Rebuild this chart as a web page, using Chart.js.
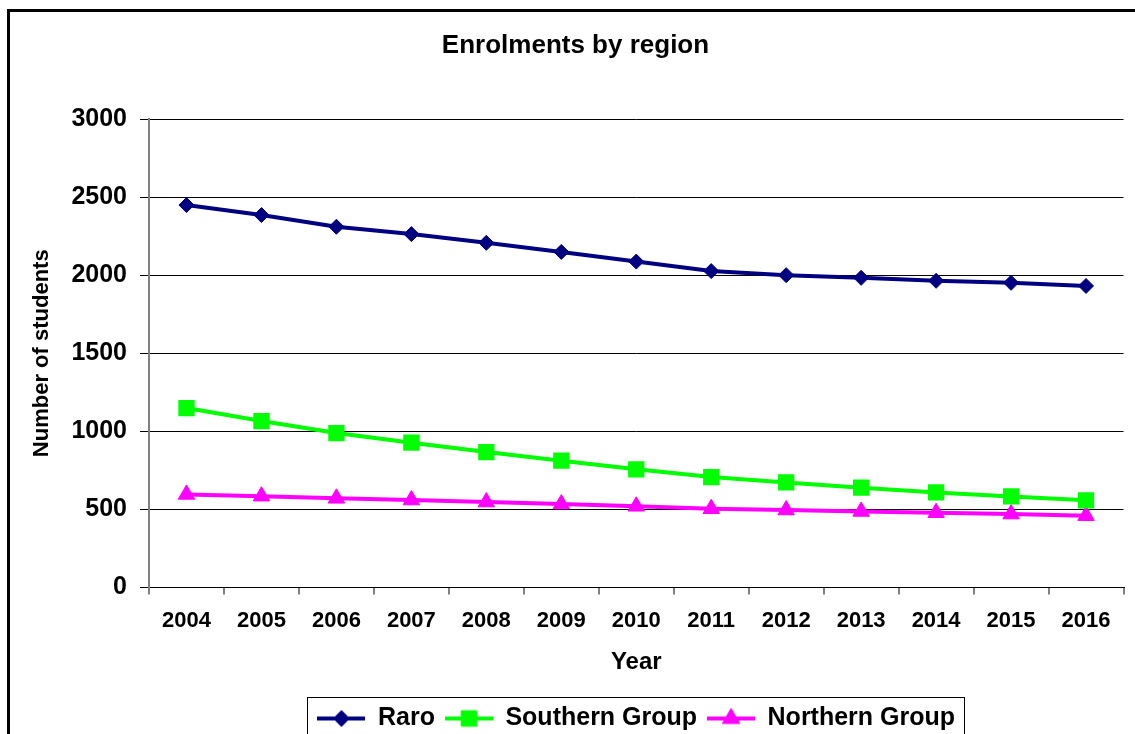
<html>
<head>
<meta charset="utf-8">
<title>Enrolments by region</title>
<script src="https://cdn.jsdelivr.net/npm/chart.js@4.4.1/dist/chart.umd.min.js"></script>
<style>
    html, body {
        margin: 0;
        padding: 0;
        background: #ffffff;
        overflow: hidden;
    }
    #wrap {
        width: 1135px;
        height: 750px;
    }
</style>
</head>
<body>
<div id="wrap">
    <canvas id="myChart" width="1135" height="750"></canvas>
</div>

<script>
    // data
    const years = ['2004', '2005', '2006', '2007', '2008', '2009', '2010',
                   '2011', '2012', '2013', '2014', '2015', '2016'];
    const raro = [2449, 2385, 2310, 2263, 2207, 2149, 2087, 2026, 2000, 1983, 1964, 1951, 1931];
    const southern = [1149, 1066, 989, 927, 867, 812, 757, 707, 673, 639, 609, 583, 558];
    const northern = [596, 585, 571, 560, 547, 534, 520, 504, 496, 487, 479, 470, 460];
    const yTicks = [0, 500, 1000, 1500, 2000, 2500, 3000];

    const FONT = '"Liberation Sans", Arial, sans-serif';

    // legend swatch: short line with the marker in the middle
    function makeSwatch(color, style, radius) {
        let c = document.createElement('canvas');
        c.width = 48;
        c.height = 26;
        let g = c.getContext('2d');
        g.strokeStyle = color;
        g.lineWidth = 4;
        g.beginPath();
        g.moveTo(0, 13);
        g.lineTo(48, 13);
        g.stroke();
        g.fillStyle = color;
        g.strokeStyle = color;
        g.lineWidth = 1;
        Chart.helpers.drawPoint(g, {pointStyle: style, radius: radius, borderWidth: 1, rotation: 0}, 24, 13);
        return c;
    }

    const swatches = [
        makeSwatch('#000080', 'rectRot', 8),
        makeSwatch('#00ff00', 'rect', 11),
        makeSwatch('#ff00ff', 'triangle', 10)
    ];

    // white page, the black frame and the box around the legend
    const framePlugin = {
        id: 'frame',
        beforeDraw(chart) {
            let ctx = chart.ctx;
            ctx.save();
            ctx.fillStyle = '#ffffff';
            ctx.fillRect(0, 0, chart.width, chart.height);
            ctx.strokeStyle = '#000000';
            ctx.lineWidth = 3;
            ctx.strokeRect(8.5, 10.5, 1300, 1000);
            ctx.restore();
        },
        afterDraw(chart) {
            let boxes = chart.legend.legendHitBoxes;
            if (!boxes || !boxes.length) return;
            let first = boxes[0];
            let last = boxes[boxes.length - 1];
            let ctx = chart.ctx;
            ctx.save();
            ctx.strokeStyle = '#000000';
            ctx.lineWidth = 1;
            ctx.strokeRect(Math.round(first.left - 10) + 0.5, Math.round(first.top - 9) + 0.5,
                Math.round(last.left + last.width - first.left + 19), Math.round(first.height + 18));
            ctx.restore();
        }
    };

    let ctx = document.getElementById('myChart').getContext('2d');
    let myChart = new Chart(ctx, {
        type: 'line',
        data: {
            labels: years,
            datasets: [{
                label: 'Raro',
                data: raro,
                borderColor: '#000080',
                backgroundColor: '#000080',
                borderWidth: 4,
                pointStyle: 'rectRot',
                pointRadius: 7.5,
                pointBorderWidth: 1,
                fill: false
            }, {
                label: 'Southern Group',
                data: southern,
                borderColor: '#00ff00',
                backgroundColor: '#00ff00',
                borderWidth: 4,
                pointStyle: 'rect',
                pointRadius: 11.5,
                pointBorderWidth: 0,
                fill: false
            }, {
                label: 'Northern Group',
                data: northern,
                borderColor: '#ff00ff',
                backgroundColor: '#ff00ff',
                borderWidth: 4,
                pointStyle: 'triangle',
                pointRadius: 9.5,
                pointBorderWidth: 1,
                fill: false
            }]
        },
        options: {
            responsive: false,
            animation: false,
            layout: {
                padding: {left: 20, right: 4, top: 0, bottom: 9}
            },
            plugins: {
                title: {
                    display: true,
                    text: 'Enrolments by region',
                    color: '#000000',
                    font: {family: FONT, size: 26, weight: 'bold'},
                    padding: {top: 30.4, bottom: 57.4}
                },
                legend: {
                    position: 'bottom',
                    fullSize: false,
                    labels: {
                        color: '#000000',
                        font: {family: FONT, size: 25, weight: 'bold'},
                        usePointStyle: true,
                        pointStyleWidth: 48,
                        padding: 10,
                        generateLabels(chart) {
                            return chart.data.datasets.map(function (ds, i) {
                                return {
                                    text: ds.label,
                                    pointStyle: swatches[i],
                                    fillStyle: ds.backgroundColor,
                                    strokeStyle: ds.borderColor,
                                    lineWidth: 0,
                                    fontColor: '#000000',
                                    hidden: false,
                                    datasetIndex: i
                                };
                            });
                        }
                    }
                },
                tooltip: {enabled: false}
            },
            scales: {
                x: {
                    offset: true,
                    grid: {
                        offset: true,
                        drawOnChartArea: false,
                        drawTicks: true,
                        tickLength: 7,
                        color: '#808080',
                        lineWidth: 2
                    },
                    border: {display: true, color: '#000000', width: 1},
                    ticks: {
                        color: '#000000',
                        font: {family: FONT, size: 22, weight: 'bold'},
                        padding: 13,
                        maxRotation: 0,
                        autoSkip: false
                    },
                    title: {
                        display: true,
                        text: 'Year',
                        color: '#000000',
                        font: {family: FONT, size: 24, weight: 'bold'},
                        padding: {top: 0, bottom: 19}
                    },
                    afterFit(scale) {
                        scale.height = 108.5;
                    }
                },
                y: {
                    min: 0,
                    max: 3000,
                    afterBuildTicks(scale) {
                        scale.ticks = yTicks.map(function (v) { return {value: v}; });
                    },
                    grid: {
                        color: '#000000',
                        lineWidth: 1,
                        drawTicks: true,
                        tickLength: 9,
                        tickColor: '#000000'
                    },
                    border: {display: true, color: '#808080', width: 2},
                    ticks: {
                        color: '#000000',
                        font: {family: FONT, size: 25, weight: 'bold'},
                        padding: 13,
                        callback: function (value) { return String(value); }
                    },
                    title: {
                        display: true,
                        text: 'Number of students',
                        color: '#000000',
                        font: {family: FONT, size: 22, weight: 'bold'},
                        padding: {top: 9, bottom: 0}
                    },
                    afterFit(scale) {
                        scale.width = 129;
                    }
                }
            }
        },
        plugins: [framePlugin]
    });
</script>
</body>
</html>
